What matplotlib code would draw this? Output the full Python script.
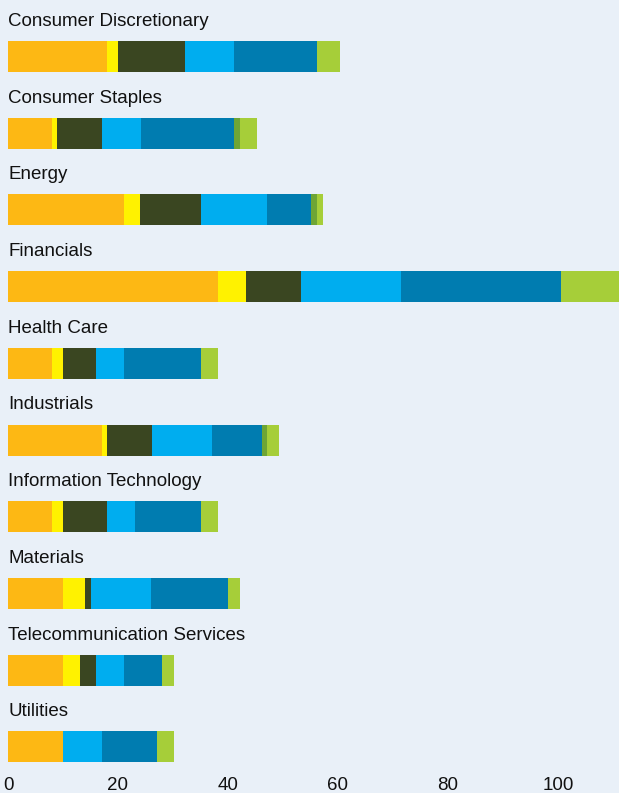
import matplotlib

matplotlib.use("Agg")
import matplotlib.pyplot as plt
import numpy as np

plt.rcParams["font.family"] = ["Liberation Sans", "DejaVu Sans"]

sectors = [
    "Consumer Discretionary",
    "Consumer Staples",
    "Energy",
    "Financials",
    "Health Care",
    "Industrials",
    "Information Technology",
    "Materials",
    "Telecommunication Services",
    "Utilities",
]

# segment values per series, one entry per sector (top to bottom)
orange = [18, 8, 21.1, 38.2, 8, 17.1, 8, 10, 10, 10]
yellow = [2, 0.9, 2.9, 5, 2, 0.9, 2, 4, 3.1, 0]
olive = [12.2, 8.2, 11.1, 10, 6, 8.2, 8, 1.1, 2.9, 0]
light_blue = [8.9, 7.1, 12, 18.2, 5.1, 10.9, 5.1, 10.9, 5.1, 7.1]
blue = [15.1, 16.9, 8, 29.1, 14, 9.1, 12, 14, 6.9, 10]
dark_green = [0, 1.1, 1.1, 0, 0, 0.9, 0, 0, 0, 0]
green = [4.2, 3.1, 1.1, 13, 3.1, 2.2, 3.1, 2.2, 2.2, 3.1]

series = [orange, yellow, olive, light_blue, blue, dark_green, green]
colors = ["#FDB814", "#FFF200", "#3A4621", "#00ADEF", "#007CB0", "#6EA535", "#A6CE39"]

xticks = [0, 20, 40, 60, 80, 100]

bg = "#E9F0F8"
fig = plt.figure(figsize=(6.19, 7.93), dpi=100, facecolor=bg)
ax = fig.add_axes([8 / 619, 23 / 793, 1 - 8 / 619, 770 / 793])
ax.set_facecolor(bg)

y = np.arange(len(sectors))
left = np.zeros(len(sectors))
for vals, c in zip(series, colors):
    v = np.asarray(vals, dtype=float)
    ax.barh(y, v, left=left, height=0.404, color=c, edgecolor="none")
    left += v

for i, name in enumerate(sectors):
    ax.text(0, i - 0.40, name, fontsize=13.5, color="#111111", va="baseline", ha="left")

ax.set_xlim(0, 611 / 5.5)
ax.set_ylim(9.30, -0.737)
ax.set_xticks(xticks)
ax.set_xticklabels([str(t) for t in xticks], fontsize=13.5, color="#111111")
ax.tick_params(axis="x", length=0, pad=5)
ax.set_yticks([])
for s in ax.spines.values():
    s.set_visible(False)

fig.savefig("out.png", dpi=100, facecolor=bg)
